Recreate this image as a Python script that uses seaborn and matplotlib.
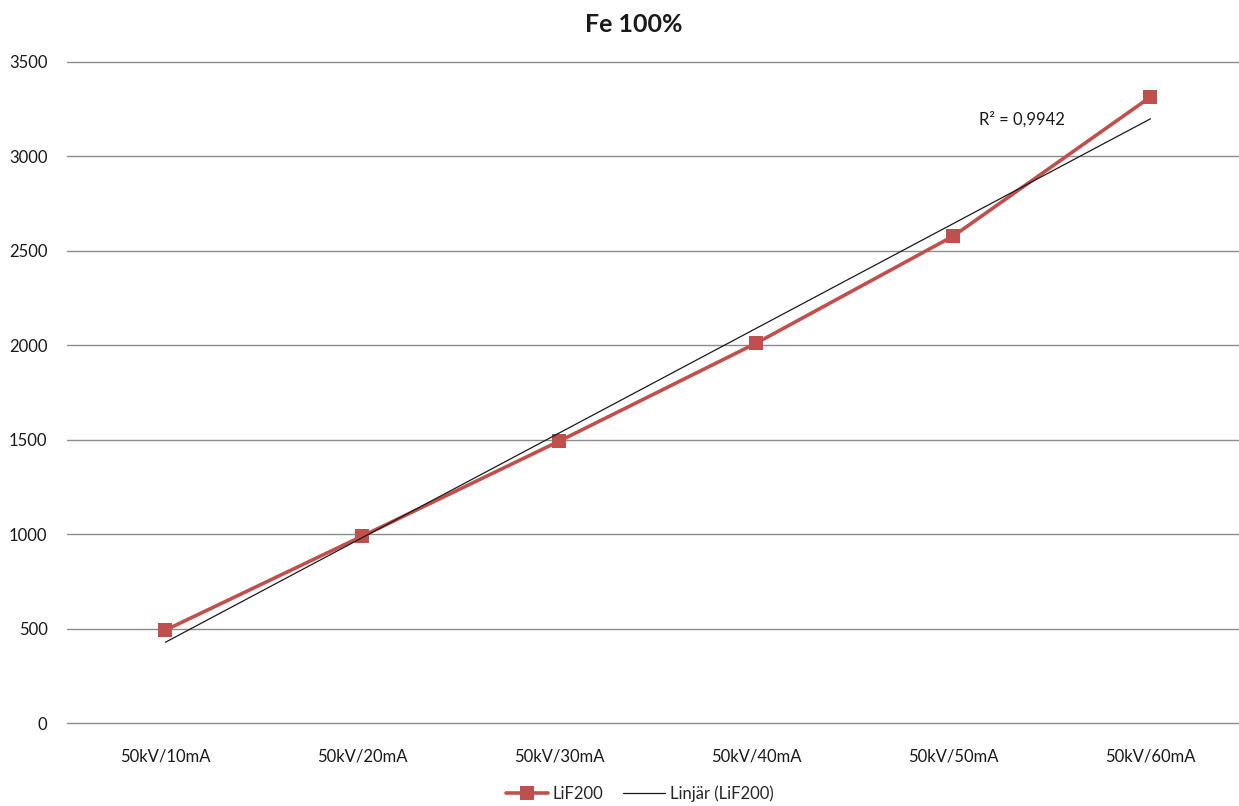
import numpy as np
import pandas as pd
import matplotlib
matplotlib.use("Agg")
import matplotlib.pyplot as plt
import seaborn as sns

categories = ["50kV/10mA", "50kV/20mA", "50kV/30mA", "50kV/40mA", "50kV/50mA", "50kV/60mA"]
lif200 = [492, 990, 1493, 2012, 2579, 3315]
yticks = [0, 500, 1000, 1500, 2000, 2500, 3000, 3500]
r2_label = "R² = 0,9942"

sns.set_theme(style="white")
plt.rcParams['font.family'] = ['Lato', 'DejaVu Sans']

df = pd.DataFrame({"cat": categories, "val": lif200, "idx": np.arange(len(categories))})

fig = plt.figure(figsize=(12.39, 8.06), dpi=100)
ax = fig.add_axes([67/1239, 83/806, 1182/1239, 661/806])

# linear trendline
coef = np.polyfit(df["idx"], df["val"], 1)
fit = np.polyval(coef, df["idx"])

sns.lineplot(data=df, x="idx", y="val", ax=ax, color="#C0504D", linewidth=2.6,
             marker="s", markersize=10, markeredgewidth=0, label="LiF200", zorder=3)
ax.plot(df["idx"], fit, color="#1a1a1a", linewidth=0.9, label="Linjär (LiF200)", zorder=4)

ax.set_xlim(-0.5, 5.5)
ax.set_ylim(0, 3500)
ax.set_yticks(yticks)
ax.set_xticks(df["idx"])
ax.set_xticklabels(categories)
ax.grid(axis="y", color="#8c8c8c", linewidth=1)
for gl in ax.get_ygridlines():
    gl.set_clip_on(False)
ax.set_axisbelow(True)
for s in ax.spines.values():
    s.set_visible(False)
ax.tick_params(axis="both", length=0, labelsize=12, colors="#1a1a1a")
ax.tick_params(axis="x", pad=18)
ax.tick_params(axis="y", pad=14)
ax.set_xlabel("")
ax.set_ylabel("")

ax.text(4.13, 3195, r2_label, fontsize=12, color="#1a1a1a", ha="left", va="center")

fig.suptitle("Fe 100%", x=634/1239, y=1-24/806, va="center", fontsize=18, fontweight="bold", color="#1a1a1a")

handles, labels = ax.get_legend_handles_labels()
ax.legend(handles, labels, loc="center", bbox_to_anchor=(640/1239, 12/806),
          bbox_transform=fig.transFigure, ncol=2, frameon=False, fontsize=12,
          handlelength=2.5, columnspacing=1.2, handletextpad=0.3)

fig.savefig("out.png", dpi=100, facecolor="white")
